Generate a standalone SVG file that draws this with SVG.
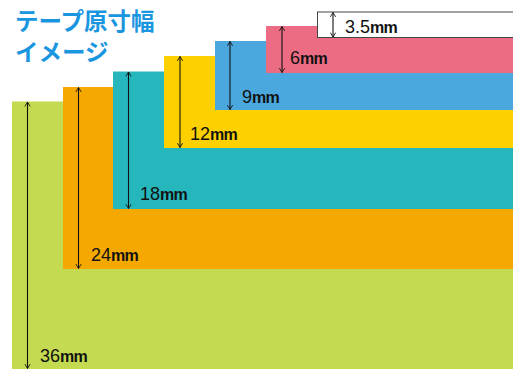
<svg xmlns="http://www.w3.org/2000/svg" width="513" height="369" viewBox="0 0 513 369">
<defs>
<style>
.lbl{font-family:"Liberation Sans",Arial,sans-serif;font-size:18px;fill:#111;}
.mm{font-size:16px;font-weight:bold;letter-spacing:-0.8px;}
.title{font-family:"Noto Sans CJK JP","Noto Sans",sans-serif;font-size:23.5px;font-weight:bold;fill:#1a96e0;}
.dim{stroke:#111;stroke-width:1.1;fill:none;marker-start:url(#ah);marker-end:url(#ah);}
</style>
<marker id="ah" viewBox="0 0 8 8" refX="7" refY="4" markerWidth="7" markerHeight="7" markerUnits="userSpaceOnUse" orient="auto-start-reverse">
<path d="M2,1 L7,4 L2,7" fill="none" stroke="#111" stroke-width="1"/>
</marker>
</defs>
<rect width="513" height="369" fill="#fff"/>
<g id="title">
<text class="title" x="15" y="30">テープ原寸幅</text>
<text class="title" x="15" y="61">イメージ</text>
</g>
<g id="tape36"><rect x="12" y="101.5" width="501" height="267.5" fill="#c4da50"/></g>
<g id="tape24"><rect x="63" y="87" width="450" height="182" fill="#f5a800"/></g>
<g id="tape18"><rect x="113" y="71.5" width="400" height="137.5" fill="#26b7bc"/></g>
<g id="tape12"><rect x="164" y="56" width="349" height="92" fill="#fdd000"/></g>
<g id="tape9"><rect x="215" y="41" width="298" height="69" fill="#4aa8de"/></g>
<g id="tape6"><rect x="266" y="26" width="247" height="47" fill="#ec6d83"/></g>
<g id="tape35"><rect x="317.5" y="12" width="200" height="25.5" fill="#fff" stroke="#444" stroke-width="1"/></g>
<g id="connectors">
<line class="dim" x1="27.5" y1="102" x2="27.5" y2="368.5"/>
<line class="dim" x1="78.5" y1="87.5" x2="78.5" y2="268.5"/>
<line class="dim" x1="128.5" y1="72" x2="128.5" y2="208.5"/>
<line class="dim" x1="180" y1="56.5" x2="180" y2="147.5"/>
<line class="dim" x1="230" y1="41.5" x2="230" y2="109.5"/>
<line class="dim" x1="282" y1="26.5" x2="282" y2="72.5"/>
<line class="dim" x1="333" y1="12.5" x2="333" y2="37"/>
</g>
<g id="labels">
<text class="lbl" x="40" y="362">36<tspan class="mm">mm</tspan></text>
<text class="lbl" x="91" y="261">24<tspan class="mm">mm</tspan></text>
<text class="lbl" x="140" y="200">18<tspan class="mm">mm</tspan></text>
<text class="lbl" x="190" y="140">12<tspan class="mm">mm</tspan></text>
<text class="lbl" x="242" y="103">9<tspan class="mm">mm</tspan></text>
<text class="lbl" x="290" y="64">6<tspan class="mm">mm</tspan></text>
<text class="lbl" x="345" y="32.5">3.5<tspan class="mm">mm</tspan></text>
</g>
</svg>
